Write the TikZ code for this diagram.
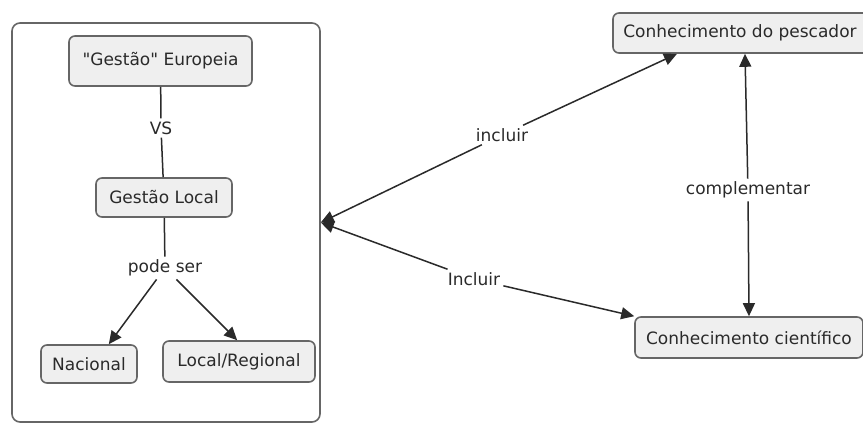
\documentclass[tikz,border=0pt]{standalone}
\usepackage{fontspec}
\setmainfont{DejaVu Sans}[Ligatures=TeXOff]
\usetikzlibrary{arrows.meta}
\definecolor{boxfill}{HTML}{EFEFEF}
\definecolor{boxline}{HTML}{666666}
\definecolor{txt}{HTML}{2A2A2A}
\definecolor{lnk}{HTML}{2A2A2A}
\tikzset{
  concept/.style={draw=boxline, line width=1.6pt, fill=boxfill, rounded corners=6pt,
    inner sep=0pt, text=txt, font=\fontsize{17}{20}\selectfont},
  container/.style={draw=boxline, line width=1.6pt, rounded corners=8pt, inner sep=0pt},
  linkphrase/.style={fill=white, inner sep=3pt, text=txt, font=\fontsize{17}{20}\selectfont},
  conn/.style={draw=lnk, line width=1.5pt},
  arr/.style={conn, -{Triangle[length=13pt,width=12pt]}}
}
\begin{document}
\begin{tikzpicture}[x=1pt,y=-1pt]
\useasboundingbox (0,0) rectangle (863,423);
\clip (0,0) rectangle (863,423);
\fill[white] (0,0) rectangle (863,423);
% container
\node[container, minimum width=308pt, minimum height=399pt] (cont) at (166,222.5) {};
% concepts
\node[concept, minimum width=183pt, minimum height=50pt] (ge) at (160.5,61) {"Gestão" Europeia};
\node[concept, minimum width=136pt, minimum height=39pt] (gl) at (164,197.5) {Gestão Local};
\node[concept, minimum width=96pt, minimum height=38pt] (nac) at (89,364) {Nacional};
\node[concept, minimum width=152pt, minimum height=41pt] (lr) at (239,361.5) {Local/Regional};
\node[concept, minimum width=264pt, minimum height=40pt] (cp) at (745,33) {\hspace*{-10pt}Conhecimento do pescador};
\node[concept, minimum width=228pt, minimum height=41pt] (cc) at (749,337.5) {Conhecimento científico};
% linking phrases
\node[linkphrase] (vs) at (161,128) {VS};
\node[linkphrase] (ps) at (165,268) {pode ser};
\node[linkphrase] (inc1) at (502,135) {incluir};
\node[linkphrase] (inc2) at (474,279) {Incluir};
\node[linkphrase] (comp) at (748,190) {complementar};
% connectors
\draw[conn] (ge) -- (vs);
\draw[conn] (vs) -- (gl);
\draw[conn] (gl) -- (ps);
\draw[arr] (ps) -- (nac.45);
\draw[arr] (ps) -- (lr.95);
\draw[arr] (inc1) -- (cont.east);
\draw[arr] (inc1) -- (cp.197);
\draw[arr] (inc2) -- (cont.east);
\draw[arr] (inc2) -- (cc.north west);
\draw[arr] (comp) -- (cp.south);
\draw[arr] (comp) -- (cc.north);
\end{tikzpicture}
\end{document}
